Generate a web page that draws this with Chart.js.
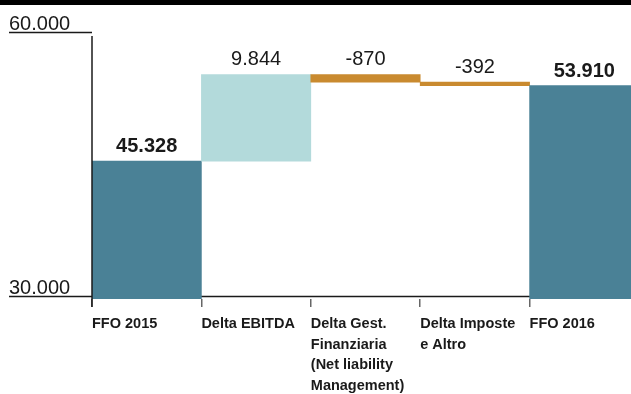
<!DOCTYPE html>
<html>
<head>
<meta charset="utf-8">
<script src="https://cdn.jsdelivr.net/npm/chart.js@4"></script>
<style>
  html, body { margin: 0; background: #fff; overflow: hidden; }
  canvas { display: block; }
</style>
</head>
<body>
<!-- the last column runs a little past the right edge of the page -->
<canvas id="ffo" width="639" height="394"></canvas>
<script>
const categories = [
  ['FFO 2015'],
  ['Delta EBITDA'],
  ['Delta Gest.', 'Finanziaria', '(Net liability', 'Management)'],
  ['Delta Imposte', 'e Altro'],
  ['FFO 2016'],
];
const values = [45328, 9844, -870, -392, 53910];
const isTotal = [true, false, false, false, true];
const yTicks = [30000, 60000];

const TOTAL_COLOR = '#4a8196';
const UP_COLOR = '#b3dadb';
const DOWN_COLOR = '#c98a2f';
const INK = '#1a1a1a';

// 45328 -> "45.328"
const fmt = (v) => String(v).replace(/\B(?=(\d{3})+(?!\d))/g, '.');

// totals are plain bars from the axis, deltas float on the running sum
let running = 0;
const bars = values.map((v, i) => {
  if (isTotal[i]) {
    running = v;
    return v;
  }
  const start = running;
  running += v;
  return [start, running];
});

const colors = values.map((v, i) => {
  if (isTotal[i]) return TOTAL_COLOR;
  return v >= 0 ? UP_COLOR : DOWN_COLOR;
});

const decorations = {
  id: 'decorations',
  beforeDraw: (chart) => {
    const {ctx, width} = chart;
    ctx.save();
    ctx.fillStyle = '#000';
    ctx.fillRect(0, 0, width, 5);
    ctx.restore();
  },
  beforeDatasetsDraw: (chart) => {
    const {ctx, chartArea, scales: {y}} = chart;
    ctx.save();
    ctx.strokeStyle = INK;
    ctx.lineWidth = 1.5;
    ctx.fillStyle = INK;
    ctx.font = '20px "Liberation Sans", Arial, sans-serif';
    ctx.textAlign = 'left';
    ctx.textBaseline = 'alphabetic';
    yTicks.forEach((t, i) => {
      const py = Math.round(y.getPixelForValue(t)) + 0.5;
      // the lowest line runs across the plot, the others stop at the axis
      const right = i === 0 ? chartArea.right : chartArea.left;
      ctx.beginPath();
      ctx.moveTo(9, py);
      ctx.lineTo(right, py);
      ctx.stroke();
      ctx.fillText(fmt(t), 9, py - 3);
    });
    ctx.restore();
  },
  afterDatasetsDraw: (chart) => {
    const {ctx, chartArea} = chart;
    const meta = chart.getDatasetMeta(0);
    ctx.save();
    ctx.strokeStyle = INK;
    ctx.lineWidth = 1.5;
    ctx.beginPath();
    ctx.moveTo(chartArea.left, 36);
    ctx.lineTo(chartArea.left, chartArea.bottom + 8);
    ctx.stroke();

    ctx.fillStyle = INK;
    ctx.textAlign = 'center';
    ctx.textBaseline = 'alphabetic';
    meta.data.forEach((bar, i) => {
      const top = Math.min(bar.y, bar.base);
      const label = isTotal[i] ? fmt(values[i]) :
        (values[i] < 0 ? '-' : '') + fmt(Math.abs(values[i]));
      ctx.font = (isTotal[i] ? 'bold ' : '') +
        '20px "Liberation Sans", Arial, sans-serif';
      ctx.fillText(label, bar.x, top - 9);
    });
    ctx.restore();
  },
};

new Chart(document.getElementById('ffo'), {
  type: 'bar',
  data: {
    labels: categories,
    datasets: [{
      data: bars,
      backgroundColor: colors,
      borderWidth: 0,
      barPercentage: 1,
      categoryPercentage: 1,
    }],
  },
  options: {
    responsive: false,
    animation: false,
    layout: {
      padding: {top: 32, left: 92, right: 0, bottom: 0},
    },
    plugins: {
      legend: {display: false},
      tooltip: {enabled: false},
    },
    scales: {
      x: {
        afterFit: (scale) => {
          // labels hang off to the right of their tick, no extra room needed
          scale.height = 95;
          scale.paddingLeft = 0;
          scale.paddingRight = 0;
        },
        border: {display: false},
        grid: {
          offset: true,
          drawOnChartArea: false,
          drawTicks: true,
          tickLength: 8,
          lineWidth: 1.5,
          color: (c) => c.index < categories.length ? '#666' : 'transparent',
        },
        ticks: {
          autoSkip: false,
          maxRotation: 0,
          minRotation: 0,
          align: 'start',
          labelOffset: -54.7,
          padding: 7,
          color: INK,
          font: {
            family: '"Liberation Sans", Arial, sans-serif',
            size: 14.5,
            weight: 'bold',
            lineHeight: 1.41,
          },
        },
      },
      y: {
        display: false,
        min: 29660,
        max: 60000,
      },
    },
  },
  plugins: [decorations],
});
</script>
</body>
</html>
